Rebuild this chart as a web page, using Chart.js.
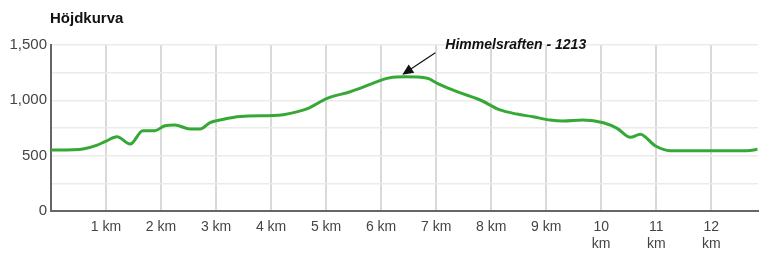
<!DOCTYPE html>
<html>
<head>
<meta charset="utf-8">
<script src="https://cdn.jsdelivr.net/npm/chart.js@4"></script>
<style>
  html, body { margin: 0; padding: 0; background: #fff; }
  #wrap { width: 772px; height: 258px; position: relative; }
</style>
</head>
<body>
<div id="wrap"><canvas id="myChart"></canvas></div>
<script>
// distance along the trail (km) and elevation (m)
let distKm = [0, 0.4, 0.58, 0.84, 0.98, 1.2, 1.44, 1.67, 1.89, 2.07, 2.25, 2.53, 2.71, 2.89, 3.07, 3.44, 4.04, 4.22, 4.65, 5.02, 5.44, 5.85, 6.04, 6.16, 6.44, 6.84, 7.02, 7.38, 7.8, 8.16, 8.47, 8.76, 9.07, 9.31, 9.67, 10.04, 10.29, 10.53, 10.71, 10.98, 11.25, 11.98, 12.65, 12.84]
let elevation = [551, 553, 560, 596, 626, 671, 605, 726, 726, 771, 777, 741, 741, 798, 822, 855, 862, 870, 922, 1018, 1078, 1154, 1190, 1205, 1213, 1200, 1154, 1078, 1003, 913, 876, 852, 822, 813, 822, 798, 747, 666, 693, 590, 545, 545, 545, 557]
let yTicks = [0, 500, 1000, 1500]
let peakName = 'Himmelsraften'
let peakKm = 6.44
let peakElev = 1213

let points = distKm.map((d, i) => ({ x: d, y: elevation[i] }))

// title + peak label drawn on the canvas
const extras = {
  id: 'extras',
  afterDraw(chart) {
    const c = chart.ctx
    const xs = chart.scales.x, ys = chart.scales.y
    c.save()
    c.fillStyle = '#111'
    c.font = 'bold 15px "Liberation Sans", Arial, sans-serif'
    c.textBaseline = 'middle'
    c.fillText('Höjdkurva', 50, 19)

    // arrow to the top
    let tipX = xs.getPixelForValue(peakKm) - 3
    let tipY = ys.getPixelForValue(peakElev) - 2
    let tailX = tipX + 33, tailY = tipY - 22
    let ang = Math.atan2(tipY - tailY, tipX - tailX)
    c.strokeStyle = '#111'
    c.lineWidth = 1.2
    c.beginPath()
    c.moveTo(tailX, tailY)
    c.lineTo(tipX - 8 * Math.cos(ang), tipY - 8 * Math.sin(ang))
    c.stroke()
    c.beginPath()
    c.moveTo(tipX, tipY)
    c.lineTo(tipX - 11 * Math.cos(ang) + 5 * Math.sin(ang), tipY - 11 * Math.sin(ang) - 5 * Math.cos(ang))
    c.lineTo(tipX - 11 * Math.cos(ang) - 5 * Math.sin(ang), tipY - 11 * Math.sin(ang) + 5 * Math.cos(ang))
    c.closePath()
    c.fill()

    c.font = 'italic bold 14px "Liberation Sans", Arial, sans-serif'
    c.fillText(peakName + ' - ' + peakElev, tailX + 10, tailY - 8)
    c.restore()
  }
}

const ctx = document.getElementById('myChart')

new Chart(ctx, {
  type: 'line',
  data: {
    datasets: [{
      data: points,
      borderColor: '#36a836',
      borderWidth: 3,
      pointRadius: 0,
      cubicInterpolationMode: 'monotone',
      fill: false
    }]
  },
  plugins: [extras],
  options: {
    responsive: true,
    maintainAspectRatio: false,
    animation: false,
    layout: { padding: { left: 0, right: 14, top: 45, bottom: 0 } },
    plugins: {
      legend: { display: false },
      tooltip: { enabled: false }
    },
    scales: {
      x: {
        type: 'linear',
        min: 0,
        max: 12.85,
        afterFit: (s) => { s.height = 47 },
        border: { color: '#666', width: 2 },
        grid: { color: '#d9d9d9', lineWidth: 2, drawTicks: false },
        ticks: {
          stepSize: 1,
          includeBounds: false,
          padding: 8,
          maxRotation: 0,
          autoSkip: false,
          color: '#444',
          font: { family: '"Liberation Sans", Arial, sans-serif', size: 14 },
          callback: (v) => {
            if (v === 0) return ''
            return v >= 10 ? [String(v), 'km'] : v + ' km'
          }
        }
      },
      y: {
        min: 0,
        max: 1500,
        afterFit: (s) => { s.width = 51 },
        border: { color: '#666', width: 2 },
        grid: { color: '#ebebeb', lineWidth: 1.5, drawTicks: false },
        ticks: {
          stepSize: 250,
          padding: 4,
          color: '#444',
          font: { family: '"Liberation Sans", Arial, sans-serif', size: 15 },
          callback: (v) => yTicks.includes(v) ? v.toLocaleString('en-US') : ''
        }
      }
    }
  }
})
</script>
</body>
</html>
